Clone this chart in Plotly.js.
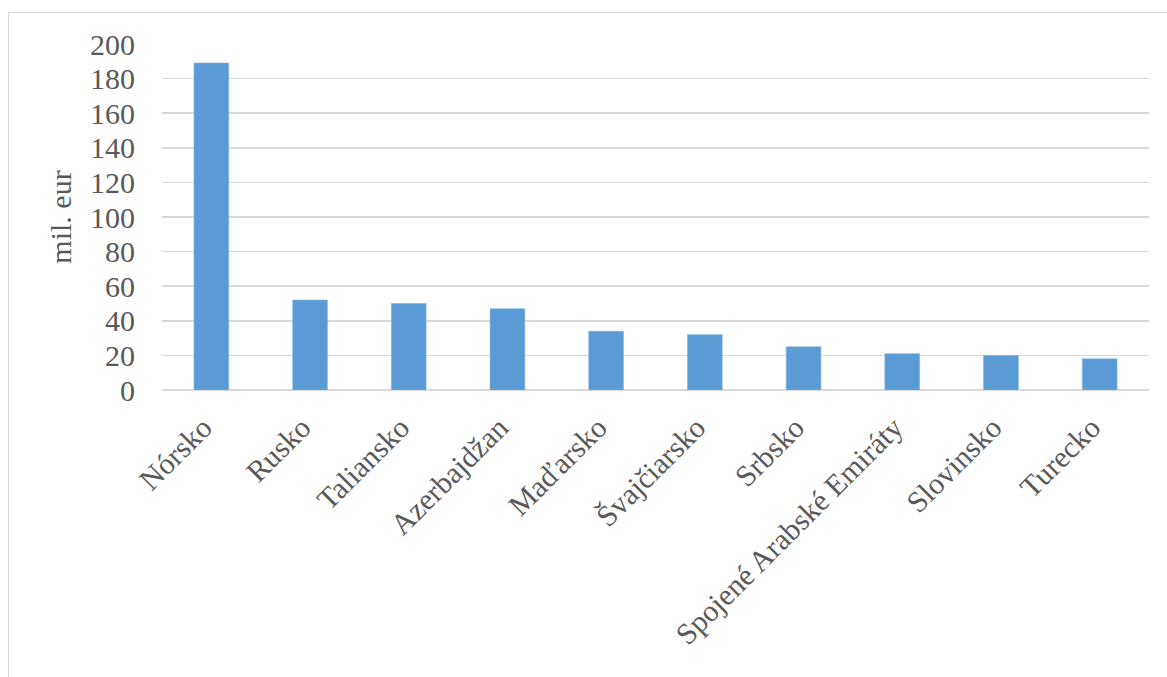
<!DOCTYPE html>
<html>
<head>
<meta charset="utf-8">
<script src="https://cdn.plot.ly/plotly-3.0.1.min.js"></script>
<style>
html,body{margin:0;padding:0;background:#fff;}
#frame{position:absolute;left:8px;top:12px;width:1200px;height:700px;border-left:1.5px solid #d9d9d9;border-top:1.5px solid #d9d9d9;pointer-events:none;}
#chart{position:absolute;left:0;top:0;width:1167px;height:677px;}
</style>
</head>
<body>
<div id="chart"></div>
<div id="frame"></div>
<script>
const categories = ["Nórsko","Rusko","Taliansko","Azerbajdžan","Maďarsko","Švajčiarsko","Srbsko","Spojené Arabské Emiráty","Slovinsko","Turecko"];
const values = [189, 52, 50, 47, 34, 32, 25, 21, 20, 18];
const yTicks = [0,20,40,60,80,100,120,140,160,180,200];
const yTitle = "mil. eur";

const fontFam = "'Liberation Serif', 'Times New Roman', serif";
const textColor = "#595959";

Plotly.newPlot("chart", [{
  type: "bar",
  x: categories,
  y: values,
  marker: {color: "#5b9bd5", line: {color: "#7fb1df", width: 0.6}},
  hoverinfo: "x+y"
}], {
  width: 1167,
  height: 677,
  margin: {l: 162, r: 18, t: 44, b: 287},
  paper_bgcolor: "#fff",
  plot_bgcolor: "#fff",
  bargap: 0.648,
  showlegend: false,
  font: {family: fontFam, color: textColor, size: 30},
  xaxis: {
    tickangle: -45,
    tickfont: {family: fontFam, color: textColor, size: 30},
    ticks: "",
    ticklabelstandoff: 13,
    ticklabelshift: -8,
    showline: false,
    showgrid: false,
    automargin: false,
    fixedrange: true
  },
  yaxis: {
    range: [0, 200],
    tickvals: yTicks,
    ticktext: yTicks.map(String),
    tickfont: {family: fontFam, color: textColor, size: 30},
    ticks: "",
    ticklabelstandoff: 26,
    showgrid: true,
    gridcolor: "#d9d9d9",
    gridwidth: 1.5,
    zeroline: true,
    zerolinecolor: "#d9d9d9",
    zerolinewidth: 1.5,
    showline: false,
    automargin: false,
    fixedrange: true,
    title: {text: yTitle, font: {family: fontFam, color: textColor, size: 30}, standoff: 9}
  }
}, {displayModeBar: false, staticPlot: true});
</script>
</body>
</html>
